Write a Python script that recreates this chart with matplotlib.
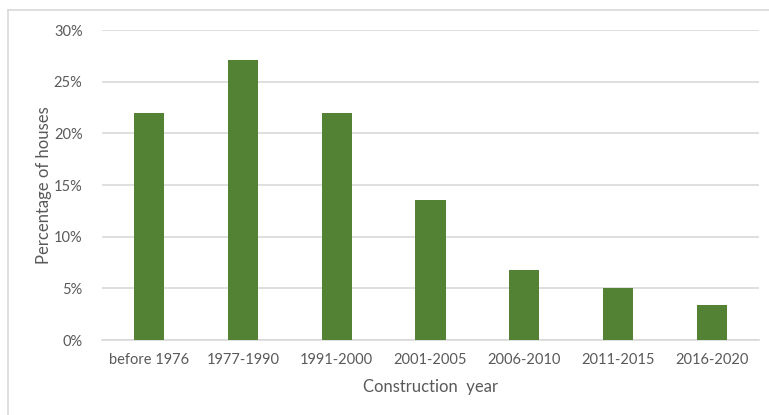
import matplotlib.pyplot as plt
from matplotlib.lines import Line2D
from matplotlib.ticker import PercentFormatter

categories = ["before 1976", "1977-1990", "1991-2000", "2001-2005",
              "2006-2010", "2011-2015", "2016-2020"]
share = [22.0, 27.1, 22.0, 13.55, 6.8, 5.05, 3.35]

plt.rcParams['font.family'] = ['Lato', 'DejaVu Sans']
text_col = "#595959"

fig = plt.figure(figsize=(7.69, 4.15), dpi=100)
ax = fig.add_axes([102 / 769, 1 - 340 / 415, 657 / 769, 310 / 415])

ax.bar(range(len(categories)), share, width=0.32, color="#548235", zorder=3)

ax.set_xlim(-0.5, len(categories) - 0.5)
ax.set_ylim(0, 30)
ax.set_yticks(range(0, 31, 5))
ax.yaxis.set_major_formatter(PercentFormatter(decimals=0))
ax.set_xticks(range(len(categories)))
ax.set_xticklabels(categories)

ax.grid(axis="y", color="#d9d9d9", linewidth=1.2, zorder=0)
for s in ["top", "right", "left"]:
    ax.spines[s].set_visible(False)
ax.spines["bottom"].set_color("#d9d9d9")
ax.spines["bottom"].set_linewidth(1.2)
ax.tick_params(axis="both", length=0, labelsize=10.5, colors=text_col)
ax.tick_params(axis="y", pad=14)
ax.tick_params(axis="x", pad=9)

ax.set_ylabel("Percentage of houses", fontsize=12, color=text_col, labelpad=1)
ax.set_xlabel("Construction  year", fontsize=12, color=text_col, labelpad=9)

# light frame around chart area (top and left edges visible)
fig.add_artist(Line2D([7.5 / 769, 7.5 / 769], [0, 1 - 10.5 / 415],
                      transform=fig.transFigure, color="#d9d9d9", lw=1.2))
fig.add_artist(Line2D([7.5 / 769, 1], [1 - 10.5 / 415, 1 - 10.5 / 415],
                      transform=fig.transFigure, color="#d9d9d9", lw=1.2))

fig.savefig("out.png", dpi=100)
